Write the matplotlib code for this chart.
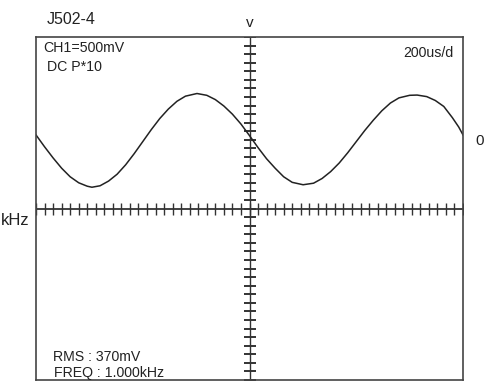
import numpy as np
import matplotlib
matplotlib.use('Agg')
import matplotlib.pyplot as plt

plt.rcParams['font.family'] = ['Liberation Sans', 'DejaVu Sans']

# Lecturas del osciloscopio (tiempo en us, tension en mV respecto a la referencia 0)
time_us = [0, 40, 80, 120, 160, 200, 240, 262, 300, 340, 380, 420, 460, 500, 540,
           580, 620, 660, 700, 754, 800, 840, 880, 920, 960, 1000, 1040, 1080, 1120,
           1160, 1200, 1251, 1300, 1340, 1380, 1420, 1460, 1500, 1540, 1580, 1620,
           1660, 1700, 1750, 1785, 1830, 1870, 1910, 1950, 1980, 2000]
trace_mv = [58, -80, -210, -330, -430, -500, -540, -552, -535, -480, -400, -290, -160, -20, 120,
            250, 360, 450, 510, 541, 520, 470, 395, 300, 185, 50, -90, -220, -330,
            -430, -495, -523, -505, -450, -370, -270, -150, -20, 110, 230, 340,
            430, 490, 520, 523, 505, 460, 390, 260, 150, 58]
ground_mv = 800          # posicion del marcador "0" en pantalla
volts_div = 500          # CH1=500mV
time_div = 200           # 200us/d
n_hdiv, n_vdiv = 10, 8

W, H = 491, 382
fig = plt.figure(figsize=(W / 100, H / 100), dpi=100)
ax = fig.add_axes([36 / W, 2 / H, 427 / W, 343 / H])
xmax = n_hdiv * time_div
ymax = n_vdiv / 2 * volts_div
ax.set_xlim(0, xmax)
ax.set_ylim(-ymax, ymax)
ax.set_xticks([])
ax.set_yticks([])
for s in ax.spines.values():
    s.set_color('#444444')
    s.set_linewidth(1.2)

# Ejes centrales con sus marcas
grid_col = '#333333'
ax.axhline(0, color=grid_col, lw=1.3)
ax.axvline(xmax / 2, color=grid_col, lw=1.0)
hx = np.arange(0, xmax + 1, time_div / 5)
ax.plot(hx, np.zeros_like(hx), ls='none', marker='|', ms=8, mew=1.0, color=grid_col)
vy = np.arange(-ymax, ymax + 1, volts_div / 5)
ax.plot(np.full_like(vy, xmax / 2), vy, ls='none', marker='_', ms=8, mew=1.4, color=grid_col)

# Senal
ax.plot(time_us, np.array(trace_mv) + ground_mv, color='#222222', lw=1.1)


def label(x, y, s, fs, ha='left'):
    fig.text(x / W, 1 - y / H, s, fontsize=fs, va='center', ha=ha, color='#222222')


# Textos dentro de la pantalla
fs = 10.2
label(43, 48, 'CH1=500mV', fs)
label(47, 67, 'DC P*10', fs)
label(454, 53, '200us/d', fs, ha='right')
label(53, 357, 'RMS : 370mV', fs)
label(54, 373, 'FREQ : 1.000kHz', fs)

# Textos exteriores
label(47, 20, 'J502-4', 11.5)
label(250, 23, 'v', 11, ha='center')
label(1, 220, 'kHz', 12)
label(480, 141, '0', 11, ha='center')

fig.savefig('out.png', dpi=100)
